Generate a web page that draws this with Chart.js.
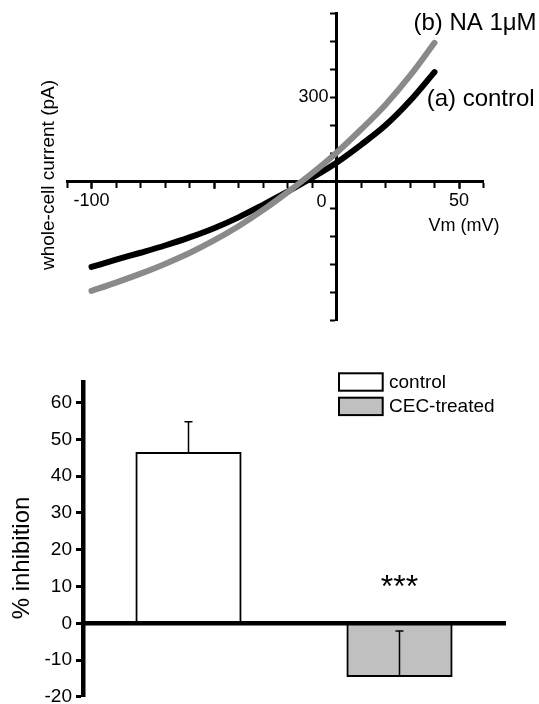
<!DOCTYPE html>
<html>
<head>
<meta charset="utf-8">
<script src="https://cdn.jsdelivr.net/npm/chart.js@4.4.1/dist/chart.umd.min.js"></script>
<style>
  body { margin: 0; background: #fff; overflow: hidden; }
  canvas { display: block; }
</style>
</head>
<body>
<canvas id="ivChart" width="539" height="340"></canvas>
<canvas id="barChart" width="539" height="364"></canvas>
<script>
// ========= DATA =========
// top panel: I-V curves
const voltages = [-100, -90, -80, -70, -60, -50, -40, -30, -20, -10, 0, 10, 20, 30, 40];
const controlCurrent = [-308, -282, -257, -231, -202, -169, -130, -85, -38, 12, 66, 130, 200, 288, 391];
const naCurrent = [-394, -364, -332, -297, -258, -213, -162, -104, -40, 28, 102, 185, 274, 378, 496];
const xTickLabels = [-100, 0, 50];
const xMajorTicks = [-100, -50, 50];
const yTickLabels = [300];

// bottom panel: % inhibition
const barSlots = ['', 'control', '', 'CEC-treated', ''];
const groups = ['control', 'CEC-treated'];
const inhibition = [46.5, -14.5];
const inhibitionErr = [8.3, 12.4];
const groupColors = ['#ffffff', '#c0c0c0'];
const sigMark = '***';
const sigLevel = 7.2;

const FONT = "'Liberation Sans', Arial, sans-serif";
Chart.defaults.font.family = FONT;
Chart.defaults.color = '#000';

// ========= TOP: I-V CHART =========
const ivLabels = {
    id: 'ivLabels',
    afterDraw(chart) {
        const { ctx, scales: { x, y } } = chart;
        ctx.save();
        ctx.fillStyle = '#000';
        ctx.textBaseline = 'middle';

        // y tick labels sit left of the crossing axis
        ctx.font = '18px ' + FONT;
        ctx.textAlign = 'right';
        yTickLabels.forEach(v => {
            ctx.fillText(String(v), x.getPixelForValue(0) - 8, y.getPixelForValue(v));
        });

        // "0" sits left of the crossing
        ctx.textAlign = 'center';
        ctx.fillText('0', x.getPixelForValue(0) - 15, y.getPixelForValue(0) + 21);
        ctx.fillText('Vm (mV)', x.getPixelForValue(52), y.getPixelForValue(0) + 45);

        // curve names
        ctx.font = '24px ' + FONT;
        ctx.textAlign = 'left';
        ctx.fillText('(b) NA 1\u03bcM', x.getPixelForValue(31.4), y.getPixelForValue(567));
        ctx.fillText('(a) control', x.getPixelForValue(36.8), y.getPixelForValue(292));

        // y title
        ctx.translate(49, 175);
        ctx.rotate(-Math.PI / 2);
        ctx.font = '19px ' + FONT;
        ctx.textAlign = 'center';
        ctx.fillText('whole-cell current (pA)', 0, 0);
        ctx.restore();
    }
};

new Chart(document.getElementById('ivChart'), {
    type: 'line',
    data: {
        datasets: [
            {
                label: 'NA 1\u03bcM',
                data: voltages.map((v, i) => ({ x: v, y: naCurrent[i] })),
                borderColor: '#8a8a8a',
                borderWidth: 6
            },
            {
                label: 'control',
                data: voltages.map((v, i) => ({ x: v, y: controlCurrent[i] })),
                borderColor: '#000000',
                borderWidth: 6
            }
        ]
    },
    options: {
        responsive: false,
        animation: false,
        layout: { padding: { left: 67, right: 55.5, top: 13, bottom: 19.5 } },
        elements: {
            point: { radius: 0 },
            line: { cubicInterpolationMode: 'monotone', borderCapStyle: 'round', fill: false }
        },
        scales: {
            x: {
                type: 'linear',
                min: -110,
                max: 60,
                position: { y: 0 },
                ticks: {
                    stepSize: 10,
                    autoSkip: false,
                    maxRotation: 0,
                    padding: 4,
                    font: { size: 18 },
                    callback: v => (xTickLabels.includes(v) && v !== 0 ? String(v) : '')
                },
                grid: { drawOnChartArea: false, tickLength: 5, tickWidth: 2, tickColor: '#000' },
                border: { color: '#000', width: 3 }
            },
            xMajor: {
                type: 'linear',
                axis: 'x',
                min: -110,
                max: 60,
                position: { y: 0 },
                afterBuildTicks: s => { s.ticks = xMajorTicks.map(v => ({ value: v })); },
                ticks: { display: false },
                grid: { drawOnChartArea: false, tickLength: 8, tickWidth: 2, tickColor: '#000' },
                border: { display: false }
            },
            y: {
                type: 'linear',
                min: -500,
                max: 600,
                position: { x: 0 },
                ticks: {
                    stepSize: 100,
                    font: { size: 18 },
                    callback: () => ''
                },
                grid: { drawOnChartArea: false, tickLength: 5, tickWidth: 2, tickColor: '#000' },
                border: { color: '#000', width: 3 }
            }
        },
        plugins: { legend: { display: false }, tooltip: { enabled: false } }
    },
    plugins: [ivLabels]
});

// ========= BOTTOM: BAR CHART =========
const barExtras = {
    id: 'barExtras',
    afterDatasetsDraw(chart) {
        const { ctx, scales: { y } } = chart;
        ctx.save();
        ctx.strokeStyle = '#000';
        ctx.lineWidth = 1.5;
        chart.data.datasets.forEach((ds, i) => {
            chart.getDatasetMeta(i).data.forEach((bar, j) => {
                if (ds.data[j] === null) return;
                const top = y.getPixelForValue(ds.data[j] + ds.errors[j]);
                ctx.beginPath();
                ctx.moveTo(bar.x, bar.y);
                ctx.lineTo(bar.x, top);
                ctx.moveTo(bar.x - 4, top);
                ctx.lineTo(bar.x + 4, top);
                ctx.stroke();
            });
        });
        ctx.restore();
    },
    afterDraw(chart) {
        const { ctx, chartArea, scales: { x, y } } = chart;
        ctx.save();

        // legend, stacked
        const lx = chartArea.left + 256;
        const ly = chartArea.top - 9;
        chart.data.datasets.forEach((ds, i) => {
            const by = ly + i * 24.4;
            ctx.fillStyle = ds.backgroundColor;
            ctx.fillRect(lx, by, 43.7, 17.4);
            ctx.lineWidth = 2;
            ctx.strokeStyle = '#000';
            ctx.strokeRect(lx, by, 43.7, 17.4);
            ctx.fillStyle = '#000';
            ctx.font = '19px ' + FONT;
            ctx.textAlign = 'left';
            ctx.textBaseline = 'middle';
            ctx.fillText(ds.label, lx + 50, by + 9);
        });

        // significance mark over CEC-treated
        ctx.font = '32px ' + FONT;
        ctx.textAlign = 'center';
        ctx.textBaseline = 'alphabetic';
        ctx.fillText(sigMark, x.getPixelForValue(barSlots.indexOf(groups[1])), y.getPixelForValue(sigLevel));

        // y title
        ctx.translate(22, 218);
        ctx.rotate(-Math.PI / 2);
        ctx.font = '24px ' + FONT;
        ctx.textBaseline = 'middle';
        ctx.fillText('% inhibition', 0, 0);
        ctx.restore();
    }
};

new Chart(document.getElementById('barChart'), {
    type: 'bar',
    data: {
        labels: barSlots,
        datasets: groups.map((g, gi) => ({
            label: g,
            data: barSlots.map(s => (s === g ? inhibition[gi] : null)),
            errors: barSlots.map(s => (s === g ? inhibitionErr[gi] : null)),
            backgroundColor: groupColors[gi],
            borderColor: '#000',
            borderWidth: 2,
            barPercentage: 1,
            categoryPercentage: 1,
            grouped: false
        }))
    },
    options: {
        responsive: false,
        animation: false,
        layout: { padding: { left: 0, right: 34, top: 42.3, bottom: 7.1 } },
        scales: {
            x: {
                type: 'category',
                position: { y: 0 },
                offset: false,
                ticks: { display: false },
                grid: { display: false },
                border: { color: '#000', width: 4.5, z: 1 }
            },
            y: {
                position: 'left',
                min: -20,
                max: 65.5,
                afterFit: s => {
                    s.width = 83;
                    s.paddingTop = 0;
                    s.paddingBottom = 0;
                },
                ticks: {
                    stepSize: 10,
                    includeBounds: false,
                    padding: 4,
                    font: { size: 19 }
                },
                grid: { drawOnChartArea: false, tickLength: 7, tickWidth: 3, tickColor: '#000' },
                border: { color: '#000', width: 4.5 }
            }
        },
        plugins: { legend: { display: false }, tooltip: { enabled: false } }
    },
    plugins: [barExtras]
});
</script>
</body>
</html>
